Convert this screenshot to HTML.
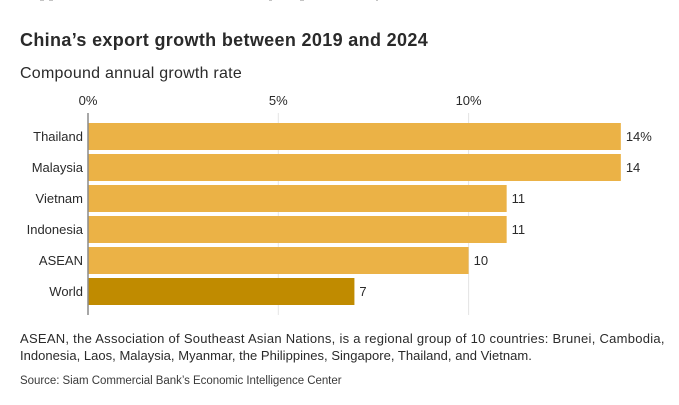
<!DOCTYPE html>
<html lang="en">
<head>
<meta charset="utf-8">
<title>China's export growth between 2019 and 2024</title>
<style>
html,body{margin:0;padding:0;background:#fff;}
body{width:679px;height:405px;overflow:hidden;position:relative;font-family:"Liberation Sans",sans-serif;}
svg{position:absolute;left:0;top:0;}
.t{position:absolute;left:20px;white-space:nowrap;color:#2a2a2a;}
.r{position:absolute;top:0;height:1px;background:#c4c4c4;}
</style>
</head>
<body>
<div class="r" style="left:40px;width:4px;"></div>
<div class="r" style="left:49px;width:4px;"></div>
<div class="r" style="left:269px;width:3px;"></div>
<div class="r" style="left:300px;width:4px;"></div>
<div class="r" style="left:376px;width:2px;"></div>
<div class="t" style="top:29px;font-size:18px;line-height:22px;font-weight:bold;letter-spacing:.34px;">China’s export growth between 2019 and 2024</div>
<div class="t" style="top:64px;font-size:16px;line-height:20px;letter-spacing:.25px;">Compound annual growth rate</div>
<svg id="chart" width="679" height="405" xmlns="http://www.w3.org/2000/svg" font-family="'Liberation Sans',sans-serif"></svg>
<div class="t" style="top:330px;font-size:13px;line-height:17px;letter-spacing:.27px;">ASEAN, the Association of Southeast Asian Nations, is a regional group of 10 countries: Brunei, Cambodia,</div>
<div class="t" style="top:347px;font-size:13px;line-height:17px;letter-spacing:.025px;">Indonesia, Laos, Malaysia, Myanmar, the Philippines, Singapore, Thailand, and Vietnam.</div>
<div class="t" style="top:374px;font-size:11.5px;line-height:15px;color:#3a3a3a;letter-spacing:-.04px;">Source: Siam Commercial Bank’s Economic Intelligence Center</div>
<script>
const categories = ['Thailand', 'Malaysia', 'Vietnam', 'Indonesia', 'ASEAN', 'World'];
const values = [14, 14, 11, 11, 10, 7];
const valueLabels = ['14%', '14', '11', '11', '10', '7'];
const highlighted = ['World'];
const tickValues = [0, 5, 10];
const tickLabels = ['0%', '5%', '10%'];

const NS = 'http://www.w3.org/2000/svg';
const svg = document.getElementById('chart');
function xScale(v) { return 88 + v * 38.06; }
function yScale(i) { return 123 + i * 31; }
const barHeight = 27;
function make(tag, attrs, text) {
  const el = document.createElementNS(NS, tag);
  for (const k in attrs) el.setAttribute(k, attrs[k]);
  if (text !== undefined) el.textContent = text;
  svg.appendChild(el);
  return el;
}
tickValues.forEach(function (t, i) {
  if (t !== 0) {
    const g = make('line', {x1: xScale(t), x2: xScale(t), y1: 113, y2: 315, stroke: '#e4e4e4', 'stroke-width': 1});
    
    
  }
  const l = make('text', {x: xScale(t), y: 105, 'text-anchor': 'middle', 'font-size': 13, fill: '#2a2a2a'}, tickLabels[i]);
  
  
});
categories.forEach(function (c, i) {
  const y = yScale(i);
  const b = make('rect', {x: xScale(0), y: y, width: xScale(values[i]) - xScale(0), height: barHeight, fill: highlighted.indexOf(c) >= 0 ? '#c08b00' : '#ebb246'});
  
  
  const cl = make('text', {x: 83, y: y + 18, 'text-anchor': 'end', 'font-size': 13, fill: '#2a2a2a'}, c);
  
  
  const vl = make('text', {x: xScale(values[i]) + 5, y: y + 18, 'font-size': 13, fill: '#2a2a2a'}, valueLabels[i]);
  
  
});
const axis = make('line', {x1: xScale(0), x2: xScale(0), y1: 113, y2: 315, stroke: '#8a8a8a', 'stroke-width': 1.5});


</script>
</body>
</html>
